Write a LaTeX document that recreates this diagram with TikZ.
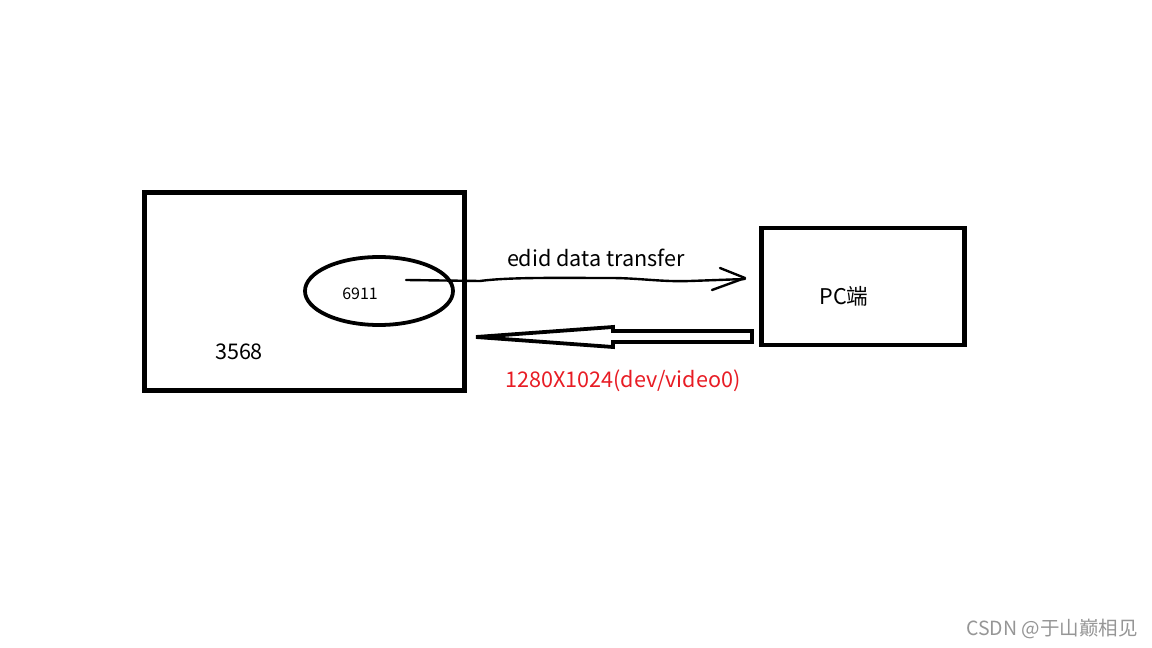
\documentclass[tikz,border=0pt]{standalone}
\usepackage{fontspec}
\newfontfamily\yh{Noto Sans CJK SC}
\begin{document}
\begin{tikzpicture}[x=0.02cm,y=-0.02cm,
  box/.style={draw=black,line width=4.5*0.567pt,inner sep=0pt},
  lbl/.style={font=\yh\fontsize{12.3pt}{14pt}\selectfont,inner sep=0pt}]
\useasboundingbox[fill=white] (0,0) rectangle (1152,648);
% boxes
\node[box,minimum width=321*0.567pt,minimum height=199*0.567pt] (dev) at (304.5,291.5) {};
\node[box,minimum width=204*0.567pt,minimum height=117*0.567pt] (pc) at (863,286.5) {};
\draw[line width=3.8*0.567pt] (379,291) ellipse [x radius=74, y radius=34];
\node[font=\yh\fontsize{9.1pt}{11pt}\selectfont,inner sep=0pt] (chip) at (360,294) {6911};
\node[lbl] (num) at (239,352) {3568};
\node[lbl] (pclbl) at (844,296) {PC端};
% wavy arrow
\coordinate (a0) at (406,280);
\coordinate (a1) at (745,279);
\draw[line width=2.4*0.567pt,line cap=round,line join=round]
  (a0) -- (480,281) .. controls (510,277) and (560,278) .. (610,278)
  .. controls (640,278) and (660,282) .. (690,281) -- (a1);
\draw[line width=2.4*0.567pt,line cap=round,line join=round]
  (720,268) -- (745,278) -- (712,290);
\node[lbl] (edid) at (596,258) {edid data transfer};
% hollow arrow
\coordinate (t) at (476,337);
\draw[line width=3.8*0.567pt,line join=miter]
  (t) -- (613,327) -- (613,331) -- (752,331) -- (752,342) -- (613,342) -- (613,347) -- cycle;
\node[lbl,text={rgb,255:red,232;green,28;blue,36}] (res) at (623,381) {1280X1024(dev/video0)};
\node[font=\yh\fontsize{11.1pt}{13pt}\selectfont,text={rgb,255:red,150;green,150;blue,150},inner sep=0pt] (wm) at (1052,629) {CSDN @于山巅相见};
\end{tikzpicture}
\end{document}
